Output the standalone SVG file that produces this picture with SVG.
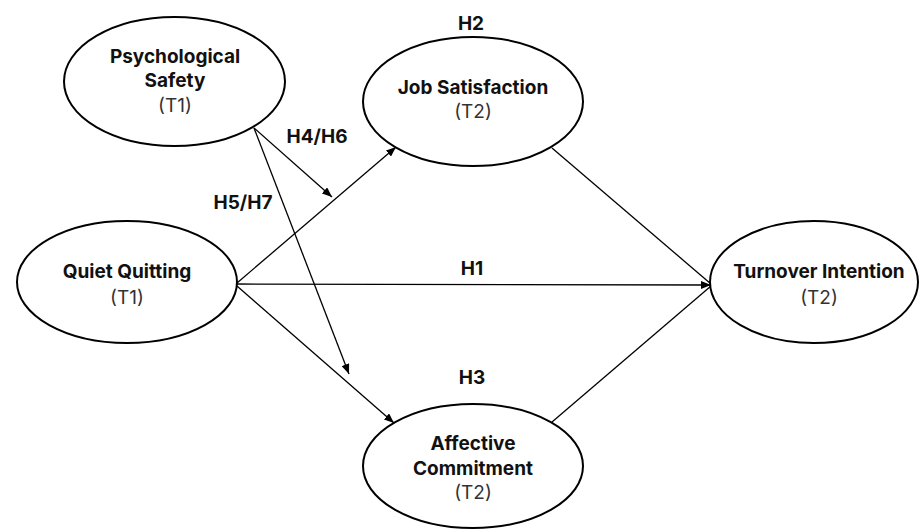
<svg xmlns="http://www.w3.org/2000/svg" width="920" height="529" viewBox="0 0 920 529">
<style>
.node ellipse{fill:#fff;stroke:#000;stroke-width:2}
text{font-family:Inter,"Liberation Sans",sans-serif;font-size:19px;text-anchor:middle}
.b{font-weight:700;fill:#111}
.t{font-weight:400;fill:#333}
.lbl{font-weight:700;fill:#111}
.conn line{stroke:#000;stroke-width:1.3;fill:none}
</style>
<defs>
<marker id="ah" viewBox="0 0 10 8" refX="10" refY="4" markerWidth="10" markerHeight="8" markerUnits="userSpaceOnUse" orient="auto">
<path d="M0,0 L10,4 L0,8 Z" fill="#000"/>
</marker>
</defs>
<rect width="920" height="529" fill="#fff"/>
<g class="conn">
<line x1="237" y1="283" x2="396" y2="147" marker-end="url(#ah)"/>
<line x1="237" y1="284" x2="711" y2="285" marker-end="url(#ah)"/>
<line x1="237" y1="286" x2="394" y2="423" marker-end="url(#ah)"/>
<line x1="552" y1="148" x2="711" y2="284"/>
<line x1="552" y1="422" x2="711" y2="286"/>
<line x1="254" y1="128" x2="332" y2="197" marker-end="url(#ah)"/>
<line x1="254" y1="128" x2="349" y2="374" marker-end="url(#ah)"/>
</g>
<g id="psychological-safety" class="node">
<ellipse cx="174.5" cy="81.5" rx="110.5" ry="64.5"/>
<text class="b" x="175" y="63">Psychological</text>
<text class="b" x="175" y="87">Safety</text>
<text class="t" x="175" y="112">(T1)</text>
</g>
<g id="quiet-quitting" class="node">
<ellipse cx="127" cy="282" rx="110" ry="61"/>
<text class="b" x="127" y="278">Quiet Quitting</text>
<text class="t" x="127" y="304">(T1)</text>
</g>
<g id="job-satisfaction" class="node">
<ellipse cx="473" cy="101.5" rx="110" ry="64.5"/>
<text class="b" x="473" y="94">Job Satisfaction</text>
<text class="t" x="473" y="118">(T2)</text>
</g>
<g id="turnover-intention" class="node">
<ellipse cx="814" cy="282" rx="104" ry="61"/>
<text class="b" x="819" y="278">Turnover Intention</text>
<text class="t" x="819" y="304">(T2)</text>
</g>
<g id="affective-commitment" class="node">
<ellipse cx="473" cy="466" rx="110" ry="62"/>
<text class="b" x="473" y="450">Affective</text>
<text class="b" x="473" y="475">Commitment</text>
<text class="t" x="473" y="499">(T2)</text>
</g>
<g id="labels">
<text class="lbl" x="471" y="30">H2</text>
<text class="lbl" x="317" y="143">H4/H6</text>
<text class="lbl" x="243" y="209">H5/H7</text>
<text class="lbl" x="472" y="275">H1</text>
<text class="lbl" x="472" y="384">H3</text>
</g>
</svg>
